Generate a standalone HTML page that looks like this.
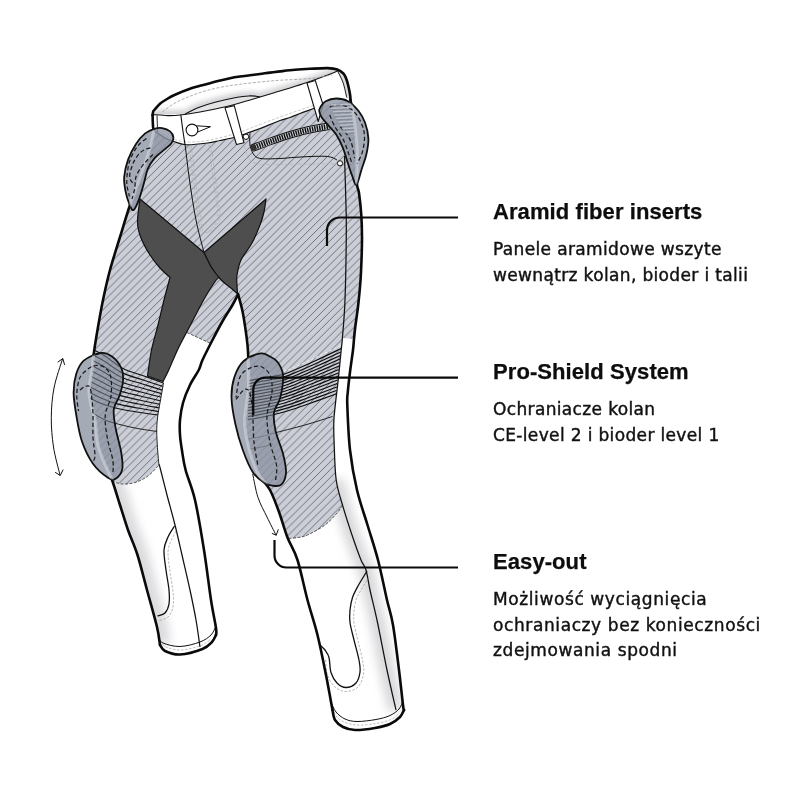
<!DOCTYPE html>
<html lang="pl"><head><meta charset="utf-8"><title>Pants features</title>
<style>
html,body{margin:0;padding:0;background:#fff;}
body{width:800px;height:800px;overflow:hidden;position:relative;font-family:"Liberation Sans",sans-serif;color:#111;}
svg{position:absolute;left:0;top:0;display:block}
.h{will-change:transform;position:absolute;left:493px;font-weight:bold;font-size:22px;line-height:26px;letter-spacing:0.08px;white-space:nowrap;color:#0d0d0d;-webkit-text-stroke:0.25px #0d0d0d}
.p{will-change:transform;position:absolute;left:493px;font-family:"DejaVu Sans","Liberation Sans",sans-serif;font-size:17px;line-height:25.5px;letter-spacing:0.35px;white-space:nowrap;color:#111;-webkit-text-stroke:0.42px #111}
</style></head><body>
<svg width="800" height="800" viewBox="0 0 800 800">
<defs>
<pattern id="hatch" width="7.9" height="7.9" patternUnits="userSpaceOnUse" patternTransform="translate(2,0)">
<rect width="7.9" height="7.9" fill="#cbced6"/>
<path d="M-1,1 L1,-1 M-1,8.9 L8.9,-1 M6.9,8.9 L8.9,6.9" stroke="#5e6169" stroke-width="0.85"/>
</pattern>
<mask id="nopads" maskUnits="userSpaceOnUse" x="0" y="0" width="800" height="800"><rect width="800" height="800" fill="#fff"/><path d="M154.40,128.80C157.23,127.92 159.58,127.67 162.20,128.10C164.82,128.53 168.23,129.87 170.10,131.40C171.97,132.93 173.18,135.33 173.40,137.30C173.62,139.27 172.82,141.23 171.40,143.20C169.98,145.17 167.73,146.58 164.90,149.10C162.07,151.62 157.25,155.02 154.40,158.30C151.55,161.58 149.55,164.65 147.80,168.80C146.05,172.95 145.43,177.95 143.90,183.20C142.37,188.45 140.35,195.82 138.60,200.30C136.85,204.78 134.93,209.45 133.40,210.10C131.87,210.75 130.72,207.37 129.40,204.20C128.08,201.03 126.37,195.68 125.50,191.10C124.63,186.52 123.77,181.95 124.20,176.70C124.63,171.45 126.13,165.07 128.10,159.60C130.07,154.13 133.15,148.27 136.00,143.90C138.85,139.53 142.13,135.92 145.20,133.40C148.27,130.88 151.57,129.68 154.40,128.80Z" fill="#000"/><path d="M320.50,107.00C321.58,105.37 323.08,102.62 325.70,101.20C328.32,99.78 332.48,98.50 336.20,98.50C339.92,98.50 344.27,99.12 348.00,101.20C351.73,103.28 355.75,107.40 358.60,111.00C361.45,114.60 363.47,118.20 365.10,122.80C366.73,127.40 368.18,133.35 368.40,138.60C368.62,143.85 367.50,149.28 366.40,154.30C365.30,159.32 363.45,163.62 361.80,168.70C360.15,173.78 358.13,183.70 356.50,184.80C354.87,185.90 353.42,178.85 352.00,175.30C350.58,171.75 349.53,168.10 348.00,163.50C346.47,158.90 344.77,152.52 342.80,147.70C340.83,142.88 338.60,138.32 336.20,134.60C333.80,130.88 330.80,128.23 328.40,125.40C326.00,122.57 323.33,120.00 321.80,117.60C320.27,115.20 319.42,112.77 319.20,111.00C318.98,109.23 319.42,108.63 320.50,107.00Z" fill="#000"/><path d="M100.60,353.00C105.31,352.32 108.56,354.00 112.00,356.50C115.44,359.00 119.42,363.92 121.25,368.00C123.08,372.08 123.31,376.33 123.00,381.00C122.69,385.67 120.94,391.27 119.40,396.00C117.86,400.73 114.38,404.07 113.75,409.40C113.12,414.73 114.35,420.82 115.60,428.00C116.85,435.18 120.15,445.60 121.25,452.50C122.35,459.40 123.14,465.02 122.20,469.40C121.26,473.77 117.97,477.35 115.60,478.75C113.23,480.15 111.77,480.30 108.00,477.80C104.23,475.30 97.35,469.84 93.00,463.75C88.65,457.66 84.69,449.38 81.90,441.25C79.11,433.12 77.63,423.12 76.25,415.00C74.87,406.88 73.60,399.38 73.60,392.50C73.60,385.62 74.56,379.07 76.25,373.75C77.94,368.43 79.69,364.06 83.75,360.60C87.81,357.14 95.89,353.68 100.60,353.00Z" fill="#000"/><path d="M260.60,353.40C264.98,352.65 267.18,355.07 270.00,356.50C272.82,357.93 275.33,358.92 277.50,362.00C279.67,365.08 282.53,369.08 283.00,375.00C283.47,380.92 281.80,391.25 280.30,397.50C278.80,403.75 274.78,406.92 274.00,412.50C273.22,418.08 274.10,424.12 275.60,431.00C277.10,437.88 281.27,446.83 283.00,453.75C284.73,460.67 286.29,467.34 286.00,472.50C285.71,477.66 283.58,482.52 281.25,484.70C278.92,486.88 274.81,485.92 272.00,485.60C269.19,485.28 267.57,484.98 264.40,482.80C261.23,480.62 256.60,477.97 253.00,472.50C249.40,467.03 245.75,458.12 242.80,450.00C239.85,441.88 237.18,432.50 235.30,423.75C233.42,415.00 231.65,405.29 231.50,397.50C231.35,389.71 232.36,383.08 234.40,377.00C236.44,370.92 239.38,364.93 243.75,361.00C248.12,357.07 256.23,354.15 260.60,353.40Z" fill="#000"/></mask>
<clipPath id="inpads"><path d="M154.40,128.80C157.23,127.92 159.58,127.67 162.20,128.10C164.82,128.53 168.23,129.87 170.10,131.40C171.97,132.93 173.18,135.33 173.40,137.30C173.62,139.27 172.82,141.23 171.40,143.20C169.98,145.17 167.73,146.58 164.90,149.10C162.07,151.62 157.25,155.02 154.40,158.30C151.55,161.58 149.55,164.65 147.80,168.80C146.05,172.95 145.43,177.95 143.90,183.20C142.37,188.45 140.35,195.82 138.60,200.30C136.85,204.78 134.93,209.45 133.40,210.10C131.87,210.75 130.72,207.37 129.40,204.20C128.08,201.03 126.37,195.68 125.50,191.10C124.63,186.52 123.77,181.95 124.20,176.70C124.63,171.45 126.13,165.07 128.10,159.60C130.07,154.13 133.15,148.27 136.00,143.90C138.85,139.53 142.13,135.92 145.20,133.40C148.27,130.88 151.57,129.68 154.40,128.80Z"/><path d="M320.50,107.00C321.58,105.37 323.08,102.62 325.70,101.20C328.32,99.78 332.48,98.50 336.20,98.50C339.92,98.50 344.27,99.12 348.00,101.20C351.73,103.28 355.75,107.40 358.60,111.00C361.45,114.60 363.47,118.20 365.10,122.80C366.73,127.40 368.18,133.35 368.40,138.60C368.62,143.85 367.50,149.28 366.40,154.30C365.30,159.32 363.45,163.62 361.80,168.70C360.15,173.78 358.13,183.70 356.50,184.80C354.87,185.90 353.42,178.85 352.00,175.30C350.58,171.75 349.53,168.10 348.00,163.50C346.47,158.90 344.77,152.52 342.80,147.70C340.83,142.88 338.60,138.32 336.20,134.60C333.80,130.88 330.80,128.23 328.40,125.40C326.00,122.57 323.33,120.00 321.80,117.60C320.27,115.20 319.42,112.77 319.20,111.00C318.98,109.23 319.42,108.63 320.50,107.00Z"/><path d="M100.60,353.00C105.31,352.32 108.56,354.00 112.00,356.50C115.44,359.00 119.42,363.92 121.25,368.00C123.08,372.08 123.31,376.33 123.00,381.00C122.69,385.67 120.94,391.27 119.40,396.00C117.86,400.73 114.38,404.07 113.75,409.40C113.12,414.73 114.35,420.82 115.60,428.00C116.85,435.18 120.15,445.60 121.25,452.50C122.35,459.40 123.14,465.02 122.20,469.40C121.26,473.77 117.97,477.35 115.60,478.75C113.23,480.15 111.77,480.30 108.00,477.80C104.23,475.30 97.35,469.84 93.00,463.75C88.65,457.66 84.69,449.38 81.90,441.25C79.11,433.12 77.63,423.12 76.25,415.00C74.87,406.88 73.60,399.38 73.60,392.50C73.60,385.62 74.56,379.07 76.25,373.75C77.94,368.43 79.69,364.06 83.75,360.60C87.81,357.14 95.89,353.68 100.60,353.00Z"/><path d="M260.60,353.40C264.98,352.65 267.18,355.07 270.00,356.50C272.82,357.93 275.33,358.92 277.50,362.00C279.67,365.08 282.53,369.08 283.00,375.00C283.47,380.92 281.80,391.25 280.30,397.50C278.80,403.75 274.78,406.92 274.00,412.50C273.22,418.08 274.10,424.12 275.60,431.00C277.10,437.88 281.27,446.83 283.00,453.75C284.73,460.67 286.29,467.34 286.00,472.50C285.71,477.66 283.58,482.52 281.25,484.70C278.92,486.88 274.81,485.92 272.00,485.60C269.19,485.28 267.57,484.98 264.40,482.80C261.23,480.62 256.60,477.97 253.00,472.50C249.40,467.03 245.75,458.12 242.80,450.00C239.85,441.88 237.18,432.50 235.30,423.75C233.42,415.00 231.65,405.29 231.50,397.50C231.35,389.71 232.36,383.08 234.40,377.00C236.44,370.92 239.38,364.93 243.75,361.00C248.12,357.07 256.23,354.15 260.60,353.40Z"/></clipPath>
<filter id="blur6" x="-50%" y="-20%" width="200%" height="140%"><feGaussianBlur stdDeviation="5"/></filter>
<filter id="blur3" x="-20%" y="-50%" width="140%" height="200%"><feGaussianBlur stdDeviation="2.5"/></filter>
</defs>
<rect width="800" height="800" fill="#fff"/>
<path d="M154.00,130.50C155.83,131.75 161.58,136.12 165.00,138.00C168.42,139.88 170.92,140.62 174.50,141.75C178.08,142.88 181.00,144.54 186.50,144.75C192.00,144.96 201.92,143.71 207.50,143.00C213.08,142.29 215.00,141.58 220.00,140.50C225.00,139.42 232.50,137.92 237.50,136.50C242.50,135.08 246.25,133.33 250.00,132.00C253.75,130.67 255.00,130.42 260.00,128.50C265.00,126.58 275.00,122.33 280.00,120.50C285.00,118.67 286.67,118.67 290.00,117.50C293.33,116.33 296.17,114.95 300.00,113.50C303.83,112.05 309.67,110.05 313.00,108.80C316.33,107.55 313.67,107.47 320.00,106.00C326.33,104.53 345.83,101.00 351.00,100.00C351.17,103.83 353.42,114.83 354.50,123.00C355.58,131.17 356.62,139.17 357.00,149.00C357.38,158.83 356.47,174.67 356.80,182.00C357.13,189.33 358.25,187.50 359.00,193.00C359.75,198.50 360.80,207.67 361.30,215.00C361.80,222.33 361.97,229.50 362.00,237.00C362.03,244.50 361.77,252.50 361.50,260.00C361.23,267.50 360.95,274.50 360.40,282.00C359.85,289.50 359.07,297.42 358.20,305.00C357.33,312.58 355.90,321.83 355.20,327.50C354.50,333.17 354.37,335.25 354.00,339.00C353.63,342.75 353.67,344.50 353.00,350.00C352.33,355.50 350.87,365.00 350.00,372.00C349.13,379.00 348.25,386.50 347.80,392.00C347.35,397.50 346.93,395.33 347.30,405.00C347.67,414.67 348.38,435.83 350.00,450.00C351.62,464.17 354.08,477.50 357.00,490.00C359.92,502.50 364.00,513.33 367.50,525.00C371.00,536.67 374.75,547.50 378.00,560.00C381.25,572.50 384.50,589.17 387.00,600.00C389.50,610.83 391.00,613.33 393.00,625.00C395.00,636.67 397.33,656.67 399.00,670.00C400.67,683.33 402.17,698.33 403.00,705.00C403.83,711.67 403.83,709.17 404.00,710.00C403.33,711.17 402.33,714.67 400.00,717.00C397.67,719.33 394.17,722.17 390.00,724.00C385.83,725.83 380.83,727.00 375.00,728.00C369.17,729.00 360.33,730.17 355.00,730.00C349.67,729.83 346.33,728.67 343.00,727.00C339.67,725.33 336.75,722.83 335.00,720.00C333.25,717.17 332.92,711.67 332.50,710.00C331.42,704.17 328.50,687.50 326.00,675.00C323.50,662.50 320.58,647.50 317.50,635.00C314.42,622.50 310.83,612.50 307.50,600.00C304.17,587.50 300.83,570.42 297.50,560.00C294.17,549.58 290.58,545.50 287.50,537.50C284.42,529.50 281.92,519.92 279.00,512.00C276.08,504.08 273.22,496.00 270.00,490.00C266.78,484.00 262.37,480.33 259.70,476.00C257.03,471.67 255.72,468.33 254.00,464.00C252.28,459.67 250.73,454.83 249.40,450.00C248.07,445.17 246.78,440.00 246.00,435.00C245.22,430.00 244.70,424.50 244.70,420.00C244.70,415.50 245.38,413.00 246.00,408.00C246.62,403.00 247.97,395.50 248.40,390.00C248.83,384.50 248.62,380.33 248.60,375.00C248.58,369.67 248.48,363.00 248.30,358.00C248.12,353.00 247.95,349.67 247.50,345.00C247.05,340.33 246.43,335.62 245.60,330.00C244.77,324.38 243.75,317.18 242.50,311.25C241.25,305.32 238.83,297.21 238.10,294.40C237.17,296.17 235.10,300.52 232.50,305.00C229.90,309.48 225.83,315.42 222.50,321.25C219.17,327.08 215.83,333.54 212.50,340.00C209.17,346.46 204.79,355.00 202.50,360.00C200.21,365.00 200.83,365.83 198.75,370.00C196.67,374.17 192.61,379.58 190.00,385.00C187.39,390.42 184.77,396.67 183.10,402.50C181.43,408.33 180.52,414.58 180.00,420.00C179.48,425.42 179.68,430.00 180.00,435.00C180.32,440.00 180.97,444.17 181.90,450.00C182.83,455.83 183.42,461.67 185.60,470.00C187.78,478.33 191.93,486.67 195.00,500.00C198.07,513.33 201.33,533.33 204.00,550.00C206.67,566.67 209.00,587.00 211.00,600.00C213.00,613.00 215.17,622.17 216.00,628.00C216.83,633.83 216.00,633.83 216.00,635.00C215.33,636.17 214.25,639.67 212.00,642.00C209.75,644.33 207.83,646.92 202.50,649.00C197.17,651.08 186.25,654.17 180.00,654.50C173.75,654.83 168.33,652.58 165.00,651.00C161.67,649.42 160.83,646.00 160.00,645.00C159.50,642.00 159.17,636.17 157.00,627.00C154.83,617.83 150.25,602.00 147.00,590.00C143.75,578.00 140.67,565.00 137.50,555.00C134.33,545.00 130.92,538.33 128.00,530.00C125.08,521.67 122.67,513.33 120.00,505.00C117.33,496.67 114.67,487.17 112.00,480.00C109.33,472.83 106.33,467.83 104.00,462.00C101.67,456.17 99.50,452.00 98.00,445.00C96.50,438.00 96.17,426.67 95.00,420.00C93.83,413.33 92.00,410.00 91.00,405.00C90.00,400.00 88.83,395.83 89.00,390.00C89.17,384.17 91.17,376.33 92.00,370.00C92.83,363.67 93.08,358.67 94.00,352.00C94.92,345.33 96.00,338.67 97.50,330.00C99.00,321.33 100.92,310.00 103.00,300.00C105.08,290.00 107.17,280.50 110.00,270.00C112.83,259.50 116.67,247.83 120.00,237.00C123.33,226.17 126.67,214.83 130.00,205.00C133.33,195.17 136.75,187.17 140.00,178.00C143.25,168.83 147.17,157.92 149.50,150.00C151.83,142.08 153.25,133.75 154.00,130.50Z" fill="url(#hatch)"/>
<path d="M186.90,332.50L210.50,343.50C201.88,361.67 200.83,365.83 198.75,370.00C196.67,374.17 192.61,379.58 190.00,385.00C187.39,390.42 184.77,396.67 183.10,402.50C181.43,408.33 180.52,414.58 180.00,420.00C179.48,425.42 179.68,430.00 180.00,435.00C180.32,440.00 180.97,444.17 181.90,450.00C182.83,455.83 183.42,461.67 185.60,470.00C187.78,478.33 191.93,486.67 195.00,500.00C198.07,513.33 201.33,533.33 204.00,550.00C206.67,566.67 209.00,587.00 211.00,600.00C213.00,613.00 215.17,622.17 216.00,628.00C216.83,633.83 216.00,633.83 216.00,635.00C215.33,636.17 214.25,639.67 212.00,642.00C209.75,644.33 207.83,646.92 202.50,649.00C197.17,651.08 186.25,654.17 180.00,654.50C173.75,654.83 168.33,652.58 165.00,651.00C161.67,649.42 160.83,646.00 160.00,645.00C159.50,642.00 159.17,636.17 157.00,627.00C154.83,617.83 150.25,602.00 147.00,590.00C143.75,578.00 140.67,565.00 137.50,555.00C134.33,545.00 130.92,538.33 128.00,530.00C125.08,521.67 122.67,513.33 120.00,505.00C117.33,496.67 113.33,484.17 112.00,480.00C113.67,481.50 118.17,483.75 122.00,484.00C125.83,484.25 130.67,483.83 135.00,482.50C139.33,481.17 144.00,478.92 148.00,476.00C152.00,473.08 157.17,466.83 159.00,465.00C158.83,463.33 158.38,460.33 158.00,455.00C157.62,449.67 156.83,439.17 156.75,433.00C156.67,426.83 156.88,423.50 157.50,418.00C158.12,412.50 159.50,405.83 160.50,400.00C161.50,394.17 163.00,385.83 163.50,383.00C163.96,379.58 166.33,375.25 168.75,370.00C171.17,364.75 174.54,356.25 177.50,350.00C180.46,343.75 185.00,335.42 186.50,332.50Z" fill="#fff"/>
<clipPath id="lowLclip"><path d="M160.00,645.00C159.50,642.00 159.17,636.17 157.00,627.00C154.83,617.83 150.25,602.00 147.00,590.00C143.75,578.00 140.67,565.00 137.50,555.00C134.33,545.00 130.92,538.33 128.00,530.00C125.08,521.67 122.67,513.33 120.00,505.00C117.33,496.67 113.33,484.17 112.00,480.00C113.67,481.50 118.17,483.75 122.00,484.00C125.83,484.25 130.67,483.83 135.00,482.50C139.33,481.17 144.00,478.92 148.00,476.00C152.00,473.08 157.17,466.83 159.00,465.00C159.17,465.42 158.67,462.50 160.00,467.50C161.33,472.50 164.50,485.42 167.00,495.00C169.50,504.58 172.50,515.00 175.00,525.00C177.50,535.00 179.50,544.17 182.00,555.00C184.50,565.83 187.67,579.17 190.00,590.00C192.33,600.83 194.33,610.50 196.00,620.00C197.67,629.50 199.33,642.50 200.00,647.00C196.67,648.25 186.67,654.83 180.00,654.50C173.33,654.17 163.33,646.58 160.00,645.00Z"/></clipPath>
<g clip-path="url(#lowLclip)"><path d="M112.00,480.00C113.33,484.17 117.33,496.67 120.00,505.00C122.67,513.33 125.08,521.67 128.00,530.00C130.92,538.33 134.33,545.00 137.50,555.00C140.67,565.00 143.75,578.00 147.00,590.00C150.25,602.00 154.83,617.83 157.00,627.00C159.17,636.17 159.50,642.00 160.00,645.00" stroke="#dcdcdf" stroke-width="22" fill="none" filter="url(#blur6)"/></g>
<path d="M288.50,538.50C290.08,538.33 294.83,538.08 298.00,537.50C301.17,536.92 303.00,537.08 307.50,535.00C312.00,532.92 320.00,528.75 325.00,525.00C330.00,521.25 334.58,515.83 337.50,512.50C340.42,509.17 341.67,506.25 342.50,505.00C341.45,500.83 337.58,490.00 336.20,480.00C334.82,470.00 334.60,454.67 334.20,445.00C333.80,435.33 333.62,428.67 333.80,422.00C333.98,415.33 334.57,412.00 335.30,405.00C336.03,398.00 337.22,389.17 338.20,380.00C339.18,370.83 340.50,357.00 341.20,350.00C341.90,343.00 342.20,340.00 342.40,338.00L354.00,339.00C352.50,353.67 350.87,365.00 350.00,372.00C349.13,379.00 348.25,386.50 347.80,392.00C347.35,397.50 346.93,395.33 347.30,405.00C347.67,414.67 348.38,435.83 350.00,450.00C351.62,464.17 354.08,477.50 357.00,490.00C359.92,502.50 364.00,513.33 367.50,525.00C371.00,536.67 374.75,547.50 378.00,560.00C381.25,572.50 384.50,589.17 387.00,600.00C389.50,610.83 391.00,613.33 393.00,625.00C395.00,636.67 397.33,656.67 399.00,670.00C400.67,683.33 402.17,698.33 403.00,705.00C403.83,711.67 403.83,709.17 404.00,710.00C403.33,711.17 402.33,714.67 400.00,717.00C397.67,719.33 394.17,722.17 390.00,724.00C385.83,725.83 380.83,727.00 375.00,728.00C369.17,729.00 360.33,730.17 355.00,730.00C349.67,729.83 346.33,728.67 343.00,727.00C339.67,725.33 336.75,722.83 335.00,720.00C333.25,717.17 332.92,711.67 332.50,710.00C331.42,704.17 328.50,687.50 326.00,675.00C323.50,662.50 320.58,647.50 317.50,635.00C314.42,622.50 310.83,612.50 307.50,600.00C304.17,587.50 300.83,570.42 297.50,560.00C294.17,549.58 289.17,541.25 287.50,537.50Z" fill="#fff"/>
<clipPath id="whiteRclip"><path d="M288.50,538.50C290.08,538.33 294.83,538.08 298.00,537.50C301.17,536.92 303.00,537.08 307.50,535.00C312.00,532.92 320.00,528.75 325.00,525.00C330.00,521.25 334.58,515.83 337.50,512.50C340.42,509.17 341.67,506.25 342.50,505.00C341.45,500.83 337.58,490.00 336.20,480.00C334.82,470.00 334.60,454.67 334.20,445.00C333.80,435.33 333.62,428.67 333.80,422.00C333.98,415.33 334.57,412.00 335.30,405.00C336.03,398.00 337.22,389.17 338.20,380.00C339.18,370.83 340.50,357.00 341.20,350.00C341.90,343.00 342.20,340.00 342.40,338.00L354.00,339.00C352.50,353.67 350.87,365.00 350.00,372.00C349.13,379.00 348.25,386.50 347.80,392.00C347.35,397.50 346.93,395.33 347.30,405.00C347.67,414.67 348.38,435.83 350.00,450.00C351.62,464.17 354.08,477.50 357.00,490.00C359.92,502.50 364.00,513.33 367.50,525.00C371.00,536.67 374.75,547.50 378.00,560.00C381.25,572.50 384.50,589.17 387.00,600.00C389.50,610.83 391.00,613.33 393.00,625.00C395.00,636.67 397.33,656.67 399.00,670.00C400.67,683.33 402.17,698.33 403.00,705.00C403.83,711.67 403.83,709.17 404.00,710.00C403.33,711.17 402.33,714.67 400.00,717.00C397.67,719.33 394.17,722.17 390.00,724.00C385.83,725.83 380.83,727.00 375.00,728.00C369.17,729.00 360.33,730.17 355.00,730.00C349.67,729.83 346.33,728.67 343.00,727.00C339.67,725.33 336.75,722.83 335.00,720.00C333.25,717.17 332.92,711.67 332.50,710.00C331.42,704.17 328.50,687.50 326.00,675.00C323.50,662.50 320.58,647.50 317.50,635.00C314.42,622.50 310.83,612.50 307.50,600.00C304.17,587.50 300.83,570.42 297.50,560.00C294.17,549.58 289.17,541.25 287.50,537.50Z"/></clipPath>
<g clip-path="url(#whiteRclip)"><path d="M336.20,480.00C337.25,484.17 339.87,495.83 342.50,505.00C345.13,514.17 348.92,525.83 352.00,535.00C355.08,544.17 358.67,554.17 361.00,560.00C363.33,565.83 364.50,565.00 366.00,570.00C367.50,575.00 368.08,581.25 370.00,590.00C371.92,598.75 374.67,609.17 377.50,622.50C380.33,635.83 383.92,655.42 387.00,670.00C390.08,684.58 394.50,703.33 396.00,710.00" stroke="#d9d9dc" stroke-width="16" fill="none" filter="url(#blur6)"/></g>
<path d="M140.00,199.00C139.58,202.92 137.33,216.00 137.50,222.50C137.67,229.00 138.92,232.58 141.00,238.00C143.08,243.42 146.83,250.00 150.00,255.00C153.17,260.00 156.67,264.25 160.00,268.00C163.33,271.75 168.33,275.92 170.00,277.50C169.00,281.25 166.00,292.08 164.00,300.00C162.00,307.92 160.08,316.67 158.00,325.00C155.92,333.33 153.25,341.50 151.50,350.00C149.75,358.50 148.17,371.67 147.50,376.00L163.00,381.50C163.96,379.58 166.33,375.25 168.75,370.00C171.17,364.75 174.54,356.25 177.50,350.00C180.46,343.75 183.58,338.12 186.50,332.50C189.42,326.88 191.92,322.08 195.00,316.25C198.08,310.42 201.46,303.54 205.00,297.50C208.54,291.46 213.75,283.33 216.25,280.00C218.75,276.67 219.38,277.92 220.00,277.50C218.67,275.92 214.67,272.17 212.00,268.00C209.33,263.83 205.33,255.08 204.00,252.50L140.00,199.00Z" fill="#4e4e4e" stroke="#111" stroke-width="1.2" stroke-linejoin="round"/>
<path d="M204.00,252.50L266.00,199.00C265.67,201.17 265.00,207.67 264.00,212.00C263.00,216.33 262.00,219.83 260.00,225.00C258.00,230.17 255.17,237.17 252.00,243.00C248.83,248.83 243.50,254.67 241.00,260.00C238.50,265.33 237.67,270.83 237.00,275.00C236.33,279.17 236.92,281.88 237.00,285.00C237.08,288.12 237.42,292.29 237.50,293.75C236.04,292.50 231.46,288.54 228.75,286.25C226.04,283.96 224.04,283.04 221.25,280.00C218.46,276.96 214.88,272.58 212.00,268.00C209.12,263.42 205.33,255.08 204.00,252.50Z" fill="#4e4e4e" stroke="#111" stroke-width="1.2" stroke-linejoin="round"/>
<path d="M186.9,332.5 L210,343.2" stroke="#333" stroke-width="0.8" stroke-dasharray="3 1.5" fill="none"/>
<path d="M94.00,350.00C95.83,351.00 100.17,352.92 105.00,356.00C109.83,359.08 116.50,365.17 123.00,368.50C129.50,371.83 137.25,373.58 144.00,376.00C150.75,378.42 160.25,381.83 163.50,383.00" stroke="#111" stroke-width="1.15" fill="none"/>
<path d="M93.56,355.33C95.37,356.31 99.68,358.30 104.44,361.22C109.21,364.15 115.70,369.76 122.17,372.89C128.63,376.02 136.44,377.72 143.22,380.00C150.01,382.28 159.61,385.46 162.89,386.56" stroke="#111" stroke-width="1.15" fill="none"/>
<path d="M93.11,360.67C94.91,361.63 99.19,363.68 103.89,366.44C108.59,369.21 114.91,374.35 121.33,377.28C127.76,380.20 135.62,381.86 142.44,384.00C149.27,386.14 158.97,389.09 162.28,390.11" stroke="#111" stroke-width="1.15" fill="none"/>
<path d="M92.67,366.00C94.44,366.94 98.69,369.06 103.33,371.67C107.97,374.28 114.11,378.94 120.50,381.67C126.89,384.39 134.81,386.00 141.67,388.00C148.53,390.00 158.33,392.72 161.67,393.67" stroke="#111" stroke-width="1.15" fill="none"/>
<path d="M92.22,371.33C93.98,372.26 98.20,374.44 102.78,376.89C107.35,379.34 113.31,383.54 119.67,386.06C126.02,388.57 133.99,390.14 140.89,392.00C147.79,393.86 157.69,396.35 161.06,397.22" stroke="#111" stroke-width="1.15" fill="none"/>
<path d="M91.78,376.67C93.52,377.57 97.71,379.81 102.22,382.11C106.73,384.41 112.52,388.13 118.83,390.44C125.15,392.76 133.18,394.28 140.11,396.00C147.05,397.72 157.06,399.98 160.44,400.78" stroke="#111" stroke-width="1.15" fill="none"/>
<path d="M91.33,382.00C93.06,382.89 97.22,385.19 101.67,387.33C106.11,389.47 111.72,392.72 118.00,394.83C124.28,396.94 132.36,398.42 139.33,400.00C146.31,401.58 156.42,403.61 159.83,404.33" stroke="#111" stroke-width="1.15" fill="none"/>
<path d="M90.89,387.33C92.59,388.20 96.73,390.57 101.11,392.56C105.49,394.54 110.93,397.31 117.17,399.22C123.41,401.13 131.55,402.56 138.56,404.00C145.56,405.44 155.78,407.24 159.22,407.89" stroke="#111" stroke-width="1.15" fill="none"/>
<path d="M90.44,392.67C92.13,393.52 96.24,395.95 100.56,397.78C104.87,399.60 110.13,401.91 116.33,403.61C122.54,405.31 130.73,406.69 137.78,408.00C144.82,409.31 155.14,410.87 158.61,411.44" stroke="#111" stroke-width="1.15" fill="none"/>
<path d="M90.00,398.00C91.67,398.83 95.75,401.33 100.00,403.00C104.25,404.67 109.33,406.50 115.50,408.00C121.67,409.50 129.92,410.83 137.00,412.00C144.08,413.17 154.50,414.50 158.00,415.00" stroke="#111" stroke-width="1.15" fill="none"/>
<path d="M93.00,413.00C94.67,414.00 99.50,417.33 103.00,419.00C106.50,420.67 108.67,421.50 114.00,423.00C119.33,424.50 127.83,426.58 135.00,428.00C142.17,429.42 153.33,430.92 157.00,431.50" stroke="#222" stroke-width="1" fill="none"/>
<path d="M163.50,383.00C163.00,385.83 161.50,394.17 160.50,400.00C159.50,405.83 158.12,412.50 157.50,418.00C156.88,423.50 156.67,426.83 156.75,433.00C156.83,439.17 157.62,449.67 158.00,455.00C158.38,460.33 158.83,463.33 159.00,465.00" stroke="#222" stroke-width="1" fill="none"/>
<path d="M249.00,377.60C251.46,377.17 258.08,376.02 263.75,375.00C269.42,373.98 278.04,372.75 283.00,371.50C287.96,370.25 287.67,370.00 293.50,367.50C299.33,365.00 310.00,360.25 318.00,356.50C326.00,352.75 337.58,346.92 341.50,345.00" stroke="#eee" stroke-width="1" stroke-dasharray="3 2" fill="none"/>
<path d="M248.93,380.59C251.29,380.18 257.55,379.11 263.12,378.11C268.70,377.10 277.37,375.83 282.38,374.57C287.38,373.32 287.41,373.00 293.18,370.57C298.95,368.14 309.01,363.68 317.00,360.00C324.99,356.32 337.09,350.42 341.11,348.50" stroke="#0c0c0c" stroke-width="1.2" fill="none"/>
<path d="M248.86,383.59C251.13,383.19 257.02,382.20 262.50,381.21C267.98,380.22 276.69,378.90 281.75,377.64C286.81,376.38 287.15,376.00 292.86,373.64C298.57,371.29 308.02,367.11 316.00,363.50C323.98,359.89 336.60,353.92 340.71,352.00" stroke="#0c0c0c" stroke-width="1.2" fill="none"/>
<path d="M248.79,386.58C250.97,386.20 256.49,385.30 261.88,384.32C267.26,383.34 276.01,381.98 281.12,380.71C286.24,379.45 286.89,379.00 292.54,376.71C298.18,374.43 307.04,370.54 315.00,367.00C322.96,363.46 336.10,357.42 340.32,355.50" stroke="#0c0c0c" stroke-width="1.2" fill="none"/>
<path d="M248.71,389.57C250.80,389.21 255.95,388.39 261.25,387.43C266.55,386.46 275.34,385.06 280.50,383.79C285.66,382.51 286.63,382.00 292.21,379.79C297.80,377.57 306.05,373.96 314.00,370.50C321.95,367.04 335.61,360.92 339.93,359.00" stroke="#0c0c0c" stroke-width="1.2" fill="none"/>
<path d="M248.64,392.56C250.64,392.23 255.42,391.49 260.62,390.54C265.83,389.58 274.66,388.14 279.88,386.86C285.09,385.58 286.37,385.00 291.89,382.86C297.41,380.71 305.06,377.39 313.00,374.00C320.94,370.61 335.11,364.42 339.54,362.50" stroke="#0c0c0c" stroke-width="1.2" fill="none"/>
<path d="M248.57,395.56C250.48,395.24 254.89,394.58 260.00,393.64C265.11,392.70 273.99,391.21 279.25,389.93C284.51,388.64 286.11,388.00 291.57,385.93C297.03,383.86 304.07,380.82 312.00,377.50C319.93,374.18 334.62,367.92 339.14,366.00" stroke="#0c0c0c" stroke-width="1.2" fill="none"/>
<path d="M248.50,398.55C250.31,398.25 254.35,397.68 259.38,396.75C264.40,395.82 273.31,394.29 278.62,393.00C283.94,391.71 285.85,391.00 291.25,389.00C296.65,387.00 303.08,384.25 311.00,381.00C318.92,377.75 334.12,371.42 338.75,369.50" stroke="#0c0c0c" stroke-width="1.2" fill="none"/>
<path d="M248.43,401.54C250.15,401.26 253.82,400.77 258.75,399.86C263.68,398.95 272.64,397.37 278.00,396.07C283.36,394.77 285.60,394.00 290.93,392.07C296.26,390.14 302.10,387.68 310.00,384.50C317.90,381.32 333.63,374.92 338.36,373.00" stroke="#0c0c0c" stroke-width="1.2" fill="none"/>
<path d="M248.36,404.54C249.99,404.27 253.29,403.86 258.12,402.96C262.96,402.07 271.96,400.45 277.38,399.14C282.79,397.84 285.34,397.00 290.61,395.14C295.88,393.29 301.11,391.11 309.00,388.00C316.89,384.89 333.14,378.42 337.96,376.50" stroke="#0c0c0c" stroke-width="1.2" fill="none"/>
<path d="M248.29,407.53C249.82,407.29 252.76,406.96 257.50,406.07C262.24,405.19 271.29,403.52 276.75,402.21C282.21,400.90 285.08,400.00 290.29,398.21C295.49,396.43 300.12,394.54 308.00,391.50C315.88,388.46 332.64,381.92 337.57,380.00" stroke="#0c0c0c" stroke-width="1.2" fill="none"/>
<path d="M248.21,410.52C249.66,410.30 252.22,410.05 256.88,409.18C261.53,408.31 270.61,406.60 276.12,405.29C281.64,403.97 284.82,403.00 289.96,401.29C295.11,399.57 299.13,397.96 307.00,395.00C314.87,392.04 332.15,385.42 337.18,383.50" stroke="#0c0c0c" stroke-width="1.2" fill="none"/>
<path d="M248.14,413.51C249.49,413.31 251.69,413.15 256.25,412.29C260.81,411.43 269.93,409.68 275.50,408.36C281.07,407.04 284.56,406.00 289.64,404.36C294.73,402.71 298.14,401.39 306.00,398.50C313.86,395.61 331.65,388.92 336.79,387.00" stroke="#0c0c0c" stroke-width="1.2" fill="none"/>
<path d="M248.07,416.51C249.33,416.32 251.16,416.24 255.62,415.39C260.09,414.55 269.26,412.76 274.88,411.43C280.49,410.10 284.30,409.00 289.32,407.43C294.34,405.86 297.15,404.82 305.00,402.00C312.85,399.18 331.16,392.42 336.39,390.50" stroke="#0c0c0c" stroke-width="1.2" fill="none"/>
<path d="M248.00,419.50C249.17,419.33 250.62,419.33 255.00,418.50C259.38,417.67 268.58,415.83 274.25,414.50C279.92,413.17 284.04,412.00 289.00,410.50C293.96,409.00 296.17,408.25 304.00,405.50C311.83,402.75 330.67,395.92 336.00,394.00" stroke="#0c0c0c" stroke-width="1.2" fill="none"/>
<path d="M248.00,439.00C250.33,438.58 257.92,437.42 262.00,436.50C266.08,435.58 265.33,435.42 272.50,433.50C279.67,431.58 295.00,427.83 305.00,425.00C315.00,422.17 327.92,417.92 332.50,416.50" stroke="#222" stroke-width="1" fill="none"/>
<path d="M250.00,449.00C252.00,448.67 258.17,447.83 262.00,447.00C265.83,446.17 271.17,444.50 273.00,444.00" stroke="#222" stroke-width="1" fill="none"/>
<path d="M344.50,156.00C344.68,162.00 345.30,179.67 345.60,192.00C345.90,204.33 346.40,212.00 346.30,230.00C346.20,248.00 345.65,282.00 345.00,300.00C344.35,318.00 343.03,329.67 342.40,338.00C341.77,346.33 341.90,343.00 341.20,350.00C340.50,357.00 339.18,370.83 338.20,380.00C337.22,389.17 336.03,398.00 335.30,405.00C334.57,412.00 333.98,415.33 333.80,422.00C333.62,428.67 333.80,435.33 334.20,445.00C334.60,454.67 334.82,470.00 336.20,480.00C337.58,490.00 339.87,495.83 342.50,505.00C345.13,514.17 348.92,525.83 352.00,535.00C355.08,544.17 358.67,554.17 361.00,560.00C363.33,565.83 364.50,565.00 366.00,570.00C367.50,575.00 368.08,581.25 370.00,590.00C371.92,598.75 374.67,609.17 377.50,622.50C380.33,635.83 383.92,655.42 387.00,670.00C390.08,684.58 394.50,703.33 396.00,710.00" stroke="#111" stroke-width="1.25" fill="none"/>
<path d="M159.00,465.00C159.17,465.42 158.67,462.50 160.00,467.50C161.33,472.50 164.50,485.42 167.00,495.00C169.50,504.58 172.50,515.00 175.00,525.00C177.50,535.00 179.50,544.17 182.00,555.00C184.50,565.83 187.67,579.17 190.00,590.00C192.33,600.83 194.33,610.50 196.00,620.00C197.67,629.50 199.33,642.50 200.00,647.00" stroke="#111" stroke-width="1.25" fill="none"/>
<path d="M112.00,481.00C113.67,481.50 118.17,483.75 122.00,484.00C125.83,484.25 130.67,483.83 135.00,482.50C139.33,481.17 144.00,478.92 148.00,476.00C152.00,473.08 157.17,466.83 159.00,465.00" stroke="#333" stroke-width="0.8" stroke-dasharray="3 1.5" fill="none"/>
<path d="M288.50,538.50C290.08,538.33 294.83,538.08 298.00,537.50C301.17,536.92 303.00,537.08 307.50,535.00C312.00,532.92 320.00,528.75 325.00,525.00C330.00,521.25 334.58,515.83 337.50,512.50C340.42,509.17 341.67,506.25 342.50,505.00" stroke="#333" stroke-width="0.8" stroke-dasharray="3 1.5" fill="none"/>
<path d="M180.80,114.75C181.50,119.62 183.55,133.12 185.00,144.00C186.45,154.88 187.67,167.33 189.50,180.00C191.33,192.67 193.58,207.92 196.00,220.00C198.42,232.08 202.67,247.08 204.00,252.50" stroke="#111" stroke-width="1" fill="none"/>
<path d="M189.00,146.00C189.50,150.00 190.83,161.00 192.00,170.00C193.17,179.00 194.58,189.67 196.00,200.00C197.42,210.33 199.75,226.67 200.50,232.00" stroke="#aeb0b6" stroke-width="0.8" stroke-dasharray="3 1.6" fill="none"/>
<path d="M209.00,145.00C209.50,149.17 210.83,160.83 212.00,170.00C213.17,179.17 215.08,192.00 216.00,200.00C216.92,208.00 218.17,213.17 217.50,218.00C216.83,222.83 214.42,226.42 212.00,229.00C209.58,231.58 204.50,232.75 203.00,233.50" stroke="#aeb0b6" stroke-width="0.8" stroke-dasharray="3 1.6" fill="none"/>
<path d="M191.20,146.00C191.70,150.00 193.03,161.00 194.20,170.00C195.37,179.00 196.78,189.67 198.20,200.00C199.62,210.33 201.95,226.67 202.70,232.00" stroke="#aeb0b6" stroke-width="0.8" stroke-dasharray="3 1.6" fill="none"/>
<path d="M211.20,145.00C211.70,149.17 213.03,160.83 214.20,170.00C215.37,179.17 217.28,192.00 218.20,200.00C219.12,208.00 220.37,213.17 219.70,218.00C219.03,222.83 216.62,226.42 214.20,229.00C211.78,231.58 206.70,232.75 205.20,233.50" stroke="#aeb0b6" stroke-width="0.8" stroke-dasharray="3 1.6" fill="none"/>
<path d="M174.50,526.00C173.42,527.83 169.75,533.00 168.00,537.00C166.25,541.00 164.33,544.50 164.00,550.00C163.67,555.50 165.17,563.33 166.00,570.00C166.83,576.67 168.50,584.33 169.00,590.00C169.50,595.67 169.67,600.17 169.00,604.00C168.33,607.83 166.92,611.00 165.00,613.00C163.08,615.00 158.75,615.50 157.50,616.00" stroke="#111" stroke-width="1.3" fill="none"/>
<path d="M176.00,531.00C175.17,532.67 172.33,537.50 171.00,541.00C169.67,544.50 168.17,546.83 168.00,552.00C167.83,557.17 169.17,565.33 170.00,572.00C170.83,578.67 172.50,586.17 173.00,592.00C173.50,597.83 173.83,602.83 173.00,607.00C172.17,611.17 170.50,614.67 168.00,617.00C165.50,619.33 159.67,620.33 158.00,621.00" stroke="#999" stroke-width="0.7" stroke-dasharray="2.5 1.5" fill="none"/>
<path d="M367.00,571.00C365.50,573.50 360.42,581.58 358.00,586.00C355.58,590.42 353.83,593.50 352.50,597.50C351.17,601.50 350.42,605.83 350.00,610.00C349.58,614.17 349.33,617.50 350.00,622.50C350.67,627.50 352.50,633.75 354.00,640.00C355.50,646.25 358.00,654.67 359.00,660.00C360.00,665.33 360.50,668.17 360.00,672.00C359.50,675.83 358.33,680.42 356.00,683.00C353.67,685.58 349.17,687.50 346.00,687.50C342.83,687.50 339.50,685.50 337.00,683.00C334.50,680.50 332.33,676.75 331.00,672.50C329.67,668.25 330.00,661.25 329.00,657.50C328.00,653.75 326.50,652.08 325.00,650.00C323.50,647.92 320.83,645.83 320.00,645.00" stroke="#111" stroke-width="1.3" fill="none"/>
<path d="M369.00,577.00C367.67,579.17 363.17,586.17 361.00,590.00C358.83,593.83 357.17,596.33 356.00,600.00C354.83,603.67 354.33,608.17 354.00,612.00C353.67,615.83 353.33,618.17 354.00,623.00C354.67,627.83 356.58,634.83 358.00,641.00C359.42,647.17 361.58,654.50 362.50,660.00C363.42,665.50 364.25,669.50 363.50,674.00C362.75,678.50 360.92,684.08 358.00,687.00C355.08,689.92 349.83,691.50 346.00,691.50C342.17,691.50 338.08,689.75 335.00,687.00C331.92,684.25 329.08,679.50 327.50,675.00C325.92,670.50 325.83,662.50 325.50,660.00" stroke="#999" stroke-width="0.7" stroke-dasharray="2.5 1.5" fill="none"/>
<path d="M158.00,637.00C158.83,638.00 159.33,641.42 163.00,643.00C166.67,644.58 173.83,646.67 180.00,646.50C186.17,646.33 194.83,643.92 200.00,642.00C205.17,640.08 208.42,637.50 211.00,635.00C213.58,632.50 214.75,628.33 215.50,627.00" stroke="#111" stroke-width="1" fill="none"/>
<path d="M160.00,641.00C161.00,642.00 162.50,645.50 166.00,647.00C169.50,648.50 175.17,650.25 181.00,650.00C186.83,649.75 196.00,647.33 201.00,645.50C206.00,643.67 209.33,640.08 211.00,639.00" stroke="#999" stroke-width="0.6" stroke-dasharray="2.5 1.5" fill="none"/>
<path d="M331.00,702.00C331.83,703.67 333.67,709.17 336.00,712.00C338.33,714.83 341.50,717.42 345.00,719.00C348.50,720.58 351.83,721.42 357.00,721.50C362.17,721.58 370.50,720.50 376.00,719.50C381.50,718.50 386.17,717.25 390.00,715.50C393.83,713.75 396.83,711.42 399.00,709.00C401.17,706.58 402.33,702.33 403.00,701.00" stroke="#111" stroke-width="1" fill="none"/>
<path d="M334.00,712.00C335.00,713.33 336.33,717.83 340.00,720.00C343.67,722.17 350.00,724.42 356.00,725.00C362.00,725.58 370.17,724.42 376.00,723.50C381.83,722.58 387.17,721.17 391.00,719.50C394.83,717.83 397.67,714.50 399.00,713.50" stroke="#999" stroke-width="0.6" stroke-dasharray="2.5 1.5" fill="none"/>
<path d="M250.00,132.00C249.95,133.33 249.62,137.50 249.70,140.00C249.78,142.50 249.70,144.42 250.50,147.00C251.30,149.58 252.58,153.55 254.50,155.50C256.42,157.45 257.75,158.20 262.00,158.70C266.25,159.20 274.50,158.73 280.00,158.50C285.50,158.27 290.00,157.63 295.00,157.30C300.00,156.97 305.00,156.67 310.00,156.50C315.00,156.33 321.33,156.13 325.00,156.30C328.67,156.47 330.00,156.88 332.00,157.50C334.00,158.12 336.17,159.58 337.00,160.00" stroke="#111" stroke-width="1" fill="none"/>
<path d="M244.75,146.50C245.04,147.75 245.62,151.75 246.50,154.00C247.38,156.25 248.42,158.42 250.00,160.00C251.58,161.58 253.50,162.75 256.00,163.50C258.50,164.25 257.67,164.38 265.00,164.50C272.33,164.62 288.00,164.32 300.00,164.20C312.00,164.07 330.83,163.82 337.00,163.75" stroke="#aeb0b6" stroke-width="0.8" stroke-dasharray="3 1.6" fill="none"/>
<path d="M252.50,148.00C255.42,146.92 264.17,143.57 270.00,141.50C275.83,139.43 281.50,137.43 287.50,135.60C293.50,133.77 299.08,132.05 306.00,130.50C312.92,128.95 325.17,127.00 329.00,126.30" stroke="#111" stroke-width="7.6" fill="none" stroke-linecap="butt"/>
<path d="M252.50,148.00C255.42,146.92 264.17,143.57 270.00,141.50C275.83,139.43 281.50,137.43 287.50,135.60C293.50,133.77 299.08,132.05 306.00,130.50C312.92,128.95 325.17,127.00 329.00,126.30" stroke="#d4d7de" stroke-width="5.6" fill="none" stroke-linecap="butt"/>
<path d="M252.50,148.00C255.42,146.92 264.17,143.57 270.00,141.50C275.83,139.43 281.50,137.43 287.50,135.60C293.50,133.77 299.08,132.05 306.00,130.50C312.92,128.95 325.17,127.00 329.00,126.30" stroke="#111" stroke-width="5.2" fill="none" stroke-dasharray="1.45 0.95"/>
<rect x="250.5" y="144.5" width="5" height="6" fill="#333" transform="rotate(-18 253 147.5)"/>
<circle cx="246" cy="136.75" r="2.7" fill="#fff" stroke="#111" stroke-width="1"/>
<circle cx="340" cy="163.3" r="2.6" fill="#fff" stroke="#111" stroke-width="1"/>
<path d="M185.00,114.25C186.17,113.62 189.50,111.71 192.00,110.50C194.50,109.29 196.17,108.38 200.00,107.00C203.83,105.62 208.75,103.88 215.00,102.25C221.25,100.62 231.67,98.26 237.50,97.20C243.33,96.14 246.92,96.07 250.00,95.90C253.08,95.73 254.33,96.02 256.00,96.20C257.67,96.38 259.33,96.87 260.00,97.00C257.17,97.83 248.75,100.38 243.00,102.00C237.25,103.62 232.67,105.08 225.50,106.75C218.33,108.42 207.50,110.62 200.00,112.00C192.50,113.38 183.75,114.50 180.50,115.00L185.00,114.25Z" fill="#e3e3e5"/>
<clipPath id="backclip"><path d="M152.60,115.00C152.70,114.42 152.84,112.42 153.20,111.50C153.56,110.58 153.62,110.79 154.75,109.50C155.88,108.21 157.96,105.50 160.00,103.75C162.04,102.00 164.50,100.50 167.00,99.00C169.50,97.50 171.17,96.46 175.00,94.75C178.83,93.04 185.00,90.46 190.00,88.75C195.00,87.04 200.33,85.79 205.00,84.50C209.67,83.21 213.83,82.05 218.00,81.00C222.17,79.95 226.33,78.95 230.00,78.20C233.67,77.45 236.67,76.99 240.00,76.50C243.33,76.01 246.67,75.67 250.00,75.25C253.33,74.83 256.67,74.44 260.00,74.00C263.33,73.56 266.67,73.03 270.00,72.60C273.33,72.17 275.83,71.87 280.00,71.40C284.17,70.93 290.00,70.23 295.00,69.80C300.00,69.37 304.58,69.08 310.00,68.80C315.42,68.52 322.96,68.00 327.50,68.10C332.04,68.20 334.54,68.45 337.25,69.40C339.96,70.35 342.12,71.87 343.75,73.80C345.38,75.73 346.09,78.30 347.00,81.00C347.91,83.70 348.66,87.50 349.20,90.00C349.74,92.50 350.03,94.33 350.25,96.00C350.47,97.67 350.46,99.33 350.50,100.00L337.00,71.25C335.00,72.04 330.00,74.12 325.00,76.00C320.00,77.88 312.83,80.50 307.00,82.50C301.17,84.50 295.33,86.33 290.00,88.00C284.67,89.67 280.00,91.00 275.00,92.50C270.00,94.00 262.50,96.25 260.00,97.00C259.33,96.87 257.67,96.38 256.00,96.20C254.33,96.02 253.08,95.73 250.00,95.90C246.92,96.07 243.33,96.14 237.50,97.20C231.67,98.26 221.25,100.62 215.00,102.25C208.75,103.88 203.83,105.62 200.00,107.00C196.17,108.38 194.50,109.29 192.00,110.50C189.50,111.71 186.17,113.62 185.00,114.25L153.00,114.60L152.60,115.00Z"/></clipPath>
<path d="M152.60,115.00C152.70,114.42 152.84,112.42 153.20,111.50C153.56,110.58 153.62,110.79 154.75,109.50C155.88,108.21 157.96,105.50 160.00,103.75C162.04,102.00 164.50,100.50 167.00,99.00C169.50,97.50 171.17,96.46 175.00,94.75C178.83,93.04 185.00,90.46 190.00,88.75C195.00,87.04 200.33,85.79 205.00,84.50C209.67,83.21 213.83,82.05 218.00,81.00C222.17,79.95 226.33,78.95 230.00,78.20C233.67,77.45 236.67,76.99 240.00,76.50C243.33,76.01 246.67,75.67 250.00,75.25C253.33,74.83 256.67,74.44 260.00,74.00C263.33,73.56 266.67,73.03 270.00,72.60C273.33,72.17 275.83,71.87 280.00,71.40C284.17,70.93 290.00,70.23 295.00,69.80C300.00,69.37 304.58,69.08 310.00,68.80C315.42,68.52 322.96,68.00 327.50,68.10C332.04,68.20 334.54,68.45 337.25,69.40C339.96,70.35 342.12,71.87 343.75,73.80C345.38,75.73 346.09,78.30 347.00,81.00C347.91,83.70 348.66,87.50 349.20,90.00C349.74,92.50 350.03,94.33 350.25,96.00C350.47,97.67 350.46,99.33 350.50,100.00L337.00,71.25C335.00,72.04 330.00,74.12 325.00,76.00C320.00,77.88 312.83,80.50 307.00,82.50C301.17,84.50 295.33,86.33 290.00,88.00C284.67,89.67 280.00,91.00 275.00,92.50C270.00,94.00 262.50,96.25 260.00,97.00C259.33,96.87 257.67,96.38 256.00,96.20C254.33,96.02 253.08,95.73 250.00,95.90C246.92,96.07 243.33,96.14 237.50,97.20C231.67,98.26 221.25,100.62 215.00,102.25C208.75,103.88 203.83,105.62 200.00,107.00C196.17,108.38 194.50,109.29 192.00,110.50C189.50,111.71 186.17,113.62 185.00,114.25L153.00,114.60L152.60,115.00Z" fill="#fff"/>
<g clip-path="url(#backclip)"><path d="M153.00,114.60C158.33,114.54 178.50,114.93 185.00,114.25C191.50,113.57 189.50,111.71 192.00,110.50C194.50,109.29 196.17,108.38 200.00,107.00C203.83,105.62 208.75,103.88 215.00,102.25C221.25,100.62 231.67,98.26 237.50,97.20C243.33,96.14 246.92,96.07 250.00,95.90C253.08,95.73 254.33,96.02 256.00,96.20C257.67,96.38 256.83,97.62 260.00,97.00C263.17,96.38 270.00,94.00 275.00,92.50C280.00,91.00 284.67,89.67 290.00,88.00C295.33,86.33 301.17,84.50 307.00,82.50C312.83,80.50 320.00,77.88 325.00,76.00C330.00,74.12 335.00,72.04 337.00,71.25" stroke="#d2d2d6" stroke-width="9" fill="none" filter="url(#blur3)"/></g>
<path d="M153.00,114.60C155.50,114.77 163.42,115.53 168.00,115.60C172.58,115.67 175.17,115.60 180.50,115.00C185.83,114.40 192.50,113.38 200.00,112.00C207.50,110.62 218.33,108.42 225.50,106.75C232.67,105.08 237.25,103.62 243.00,102.00C248.75,100.38 254.67,98.58 260.00,97.00C265.33,95.42 270.00,94.00 275.00,92.50C280.00,91.00 284.67,89.67 290.00,88.00C295.33,86.33 301.17,84.50 307.00,82.50C312.83,80.50 320.00,77.88 325.00,76.00C330.00,74.12 335.00,72.04 337.00,71.25C338.25,71.88 342.50,71.88 344.50,75.00C346.50,78.12 347.92,85.83 349.00,90.00C350.08,94.17 350.67,98.33 351.00,100.00C345.83,101.00 326.33,104.53 320.00,106.00C313.67,107.47 316.33,107.55 313.00,108.80C309.67,110.05 303.83,112.05 300.00,113.50C296.17,114.95 293.33,116.33 290.00,117.50C286.67,118.67 285.00,118.67 280.00,120.50C275.00,122.33 265.00,126.58 260.00,128.50C255.00,130.42 253.75,130.67 250.00,132.00C246.25,133.33 242.50,135.08 237.50,136.50C232.50,137.92 225.00,139.42 220.00,140.50C215.00,141.58 213.08,142.29 207.50,143.00C201.92,143.71 192.00,144.96 186.50,144.75C181.00,144.54 178.08,142.88 174.50,141.75C170.92,140.62 168.42,139.88 165.00,138.00C161.58,136.12 155.83,131.75 154.00,130.50L152.60,115.00Z" fill="#fff"/>
<path d="M153.00,114.60C155.50,114.77 163.42,115.53 168.00,115.60C172.58,115.67 175.17,115.60 180.50,115.00C185.83,114.40 192.50,113.38 200.00,112.00C207.50,110.62 218.33,108.42 225.50,106.75C232.67,105.08 237.25,103.62 243.00,102.00C248.75,100.38 254.67,98.58 260.00,97.00C265.33,95.42 270.00,94.00 275.00,92.50C280.00,91.00 284.67,89.67 290.00,88.00C295.33,86.33 301.17,84.50 307.00,82.50C312.83,80.50 320.00,77.88 325.00,76.00C330.00,74.12 335.00,72.04 337.00,71.25" stroke="#111" stroke-width="1.1" fill="none"/>
<path d="M185.00,114.25C186.17,113.62 189.50,111.71 192.00,110.50C194.50,109.29 196.17,108.38 200.00,107.00C203.83,105.62 208.75,103.88 215.00,102.25C221.25,100.62 231.67,98.26 237.50,97.20C243.33,96.14 246.92,96.07 250.00,95.90C253.08,95.73 254.33,96.02 256.00,96.20C257.67,96.38 259.33,96.87 260.00,97.00" stroke="#111" stroke-width="1.1" fill="none"/>
<path d="M154.00,130.50C155.83,131.75 161.58,136.12 165.00,138.00C168.42,139.88 170.92,140.62 174.50,141.75C178.08,142.88 181.00,144.54 186.50,144.75C192.00,144.96 201.92,143.71 207.50,143.00C213.08,142.29 215.00,141.58 220.00,140.50C225.00,139.42 232.50,137.92 237.50,136.50C242.50,135.08 246.25,133.33 250.00,132.00C253.75,130.67 255.00,130.42 260.00,128.50C265.00,126.58 275.00,122.33 280.00,120.50C285.00,118.67 286.67,118.67 290.00,117.50C293.33,116.33 296.17,114.95 300.00,113.50C303.83,112.05 309.67,110.05 313.00,108.80C316.33,107.55 318.83,106.47 320.00,106.00" stroke="#111" stroke-width="1.2" fill="none"/>
<path d="M337.00,69.75C338.25,70.62 342.50,71.62 344.50,75.00C346.50,78.38 348.00,85.83 349.00,90.00C350.00,94.17 350.25,98.33 350.50,100.00L346.75,98.00C346.12,95.42 344.62,87.21 343.00,82.50C341.38,77.79 338.00,71.88 337.00,69.75Z" fill="#dcdcde"/>
<path d="M337.00,70.00C338.00,72.08 341.38,77.92 343.00,82.50C344.62,87.08 346.12,95.00 346.75,97.50" stroke="#111" stroke-width="1" fill="none"/>
<path d="M162.25,112.00C164.38,110.50 170.38,105.62 175.00,103.00C179.62,100.38 185.00,98.25 190.00,96.25C195.00,94.25 199.67,92.54 205.00,91.00C210.33,89.46 216.17,88.12 222.00,87.00C227.83,85.88 233.67,85.08 240.00,84.25C246.33,83.42 253.33,82.67 260.00,82.00C266.67,81.33 271.67,80.83 280.00,80.25C288.33,79.67 301.33,79.38 310.00,78.50C318.67,77.62 328.33,75.58 332.00,75.00" stroke="#999" stroke-width="0.8" stroke-dasharray="3 1.6" fill="none"/>
<path d="M158.00,131.00C159.33,131.83 163.17,134.58 166.00,136.00C168.83,137.42 171.58,138.50 175.00,139.50C178.42,140.50 181.08,141.83 186.50,142.00C191.92,142.17 199.00,142.00 207.50,140.50C216.00,139.00 228.75,135.67 237.50,133.00C246.25,130.33 252.92,127.17 260.00,124.50C267.08,121.83 273.33,119.42 280.00,117.00C286.67,114.58 293.67,112.17 300.00,110.00C306.33,107.83 315.00,105.00 318.00,104.00" stroke="#bbb" stroke-width="0.8" stroke-dasharray="3 1.6" fill="none"/>
<path d="M157,115.3 L157.6,131.8" stroke="#111" stroke-width="0.9" fill="none"/>
<path d="M180.80,114.75C181.13,117.29 182.10,125.04 182.80,130.00C183.50,134.96 184.63,142.08 185.00,144.50" stroke="#111" stroke-width="1.1" fill="none"/>
<path d="M225,107.8 L234.3,105.6 L244,142.75 L236.5,144.5 Z" fill="#fff" stroke="#111" stroke-width="1.1" stroke-linejoin="round"/>
<path d="M307,83 L315.25,80.5 L323,104.5 L318.25,121.5 Z" fill="#fff" stroke="#111" stroke-width="1.1" stroke-linejoin="round"/>
<path d="M196.5,125.8 L210.5,126.7 L197.3,132.2 Z" fill="#fff" stroke="#111" stroke-width="1" stroke-linejoin="round"/>
<circle cx="192" cy="130" r="5.9" fill="#fff" stroke="#111" stroke-width="1.1"/>
<g mask="url(#nopads)"><path d="M152.60,115.00C152.70,114.42 152.84,112.42 153.20,111.50C153.56,110.58 153.62,110.79 154.75,109.50C155.88,108.21 157.96,105.50 160.00,103.75C162.04,102.00 164.50,100.50 167.00,99.00C169.50,97.50 171.17,96.46 175.00,94.75C178.83,93.04 185.00,90.46 190.00,88.75C195.00,87.04 200.33,85.79 205.00,84.50C209.67,83.21 213.83,82.05 218.00,81.00C222.17,79.95 226.33,78.95 230.00,78.20C233.67,77.45 236.67,76.99 240.00,76.50C243.33,76.01 246.67,75.67 250.00,75.25C253.33,74.83 256.67,74.44 260.00,74.00C263.33,73.56 266.67,73.03 270.00,72.60C273.33,72.17 275.83,71.87 280.00,71.40C284.17,70.93 290.00,70.23 295.00,69.80C300.00,69.37 304.58,69.08 310.00,68.80C315.42,68.52 322.96,68.00 327.50,68.10C332.04,68.20 334.54,68.45 337.25,69.40C339.96,70.35 342.12,71.87 343.75,73.80C345.38,75.73 346.09,78.30 347.00,81.00C347.91,83.70 348.66,87.50 349.20,90.00C349.74,92.50 350.03,94.33 350.25,96.00C350.47,97.67 350.46,99.33 350.50,100.00" stroke="#0a0a0a" stroke-width="2.6" fill="none" stroke-linecap="round" stroke-linejoin="round"/><path d="M152.60,115.00C152.63,116.17 152.67,119.67 152.80,122.00C152.93,124.33 152.87,127.50 153.40,129.00C153.93,130.50 155.57,130.67 156.00,131.00" stroke="#0a0a0a" stroke-width="2.6" fill="none" stroke-linecap="round" stroke-linejoin="round"/><path d="M154.00,130.50C153.25,133.75 151.83,142.08 149.50,150.00C147.17,157.92 143.25,168.83 140.00,178.00C136.75,187.17 133.33,195.17 130.00,205.00C126.67,214.83 123.33,226.17 120.00,237.00C116.67,247.83 112.83,259.50 110.00,270.00C107.17,280.50 105.08,290.00 103.00,300.00C100.92,310.00 99.00,321.33 97.50,330.00C96.00,338.67 94.92,345.33 94.00,352.00C93.08,358.67 92.83,363.67 92.00,370.00C91.17,376.33 89.17,384.17 89.00,390.00C88.83,395.83 90.00,400.00 91.00,405.00C92.00,410.00 93.83,413.33 95.00,420.00C96.17,426.67 96.50,438.00 98.00,445.00C99.50,452.00 101.67,456.17 104.00,462.00C106.33,467.83 109.33,472.83 112.00,480.00C114.67,487.17 117.33,496.67 120.00,505.00C122.67,513.33 125.08,521.67 128.00,530.00C130.92,538.33 134.33,545.00 137.50,555.00C140.67,565.00 143.75,578.00 147.00,590.00C150.25,602.00 154.83,617.83 157.00,627.00C159.17,636.17 159.50,642.00 160.00,645.00" stroke="#0a0a0a" stroke-width="2.6" fill="none" stroke-linecap="round" stroke-linejoin="round"/><path d="M160.00,645.00C160.83,646.00 161.67,649.42 165.00,651.00C168.33,652.58 173.75,654.83 180.00,654.50C186.25,654.17 197.17,651.08 202.50,649.00C207.83,646.92 209.75,644.33 212.00,642.00C214.25,639.67 215.33,636.17 216.00,635.00" stroke="#0a0a0a" stroke-width="2.6" fill="none" stroke-linecap="round" stroke-linejoin="round"/><path d="M238.10,294.40C237.17,296.17 235.10,300.52 232.50,305.00C229.90,309.48 225.83,315.42 222.50,321.25C219.17,327.08 215.83,333.54 212.50,340.00C209.17,346.46 204.79,355.00 202.50,360.00C200.21,365.00 200.83,365.83 198.75,370.00C196.67,374.17 192.61,379.58 190.00,385.00C187.39,390.42 184.77,396.67 183.10,402.50C181.43,408.33 180.52,414.58 180.00,420.00C179.48,425.42 179.68,430.00 180.00,435.00C180.32,440.00 180.97,444.17 181.90,450.00C182.83,455.83 183.42,461.67 185.60,470.00C187.78,478.33 191.93,486.67 195.00,500.00C198.07,513.33 201.33,533.33 204.00,550.00C206.67,566.67 209.00,587.00 211.00,600.00C213.00,613.00 215.17,622.17 216.00,628.00C216.83,633.83 216.00,633.83 216.00,635.00" stroke="#0a0a0a" stroke-width="2.6" fill="none" stroke-linecap="round" stroke-linejoin="round"/><path d="M238.10,294.40C238.83,297.21 241.25,305.32 242.50,311.25C243.75,317.18 244.77,324.38 245.60,330.00C246.43,335.62 247.05,340.33 247.50,345.00C247.95,349.67 248.12,353.00 248.30,358.00C248.48,363.00 248.58,369.67 248.60,375.00C248.62,380.33 248.83,384.50 248.40,390.00C247.97,395.50 246.62,403.00 246.00,408.00C245.38,413.00 244.70,415.50 244.70,420.00C244.70,424.50 245.22,430.00 246.00,435.00C246.78,440.00 248.07,445.17 249.40,450.00C250.73,454.83 252.28,459.67 254.00,464.00C255.72,468.33 257.03,471.67 259.70,476.00C262.37,480.33 266.78,484.00 270.00,490.00C273.22,496.00 276.08,504.08 279.00,512.00C281.92,519.92 284.42,529.50 287.50,537.50C290.58,545.50 294.17,549.58 297.50,560.00C300.83,570.42 304.17,587.50 307.50,600.00C310.83,612.50 314.42,622.50 317.50,635.00C320.58,647.50 323.50,662.50 326.00,675.00C328.50,687.50 331.42,704.17 332.50,710.00" stroke="#0a0a0a" stroke-width="2.6" fill="none" stroke-linecap="round" stroke-linejoin="round"/><path d="M332.50,710.00C332.92,711.67 333.25,717.17 335.00,720.00C336.75,722.83 339.67,725.33 343.00,727.00C346.33,728.67 349.67,729.83 355.00,730.00C360.33,730.17 369.17,729.00 375.00,728.00C380.83,727.00 385.83,725.83 390.00,724.00C394.17,722.17 397.67,719.33 400.00,717.00C402.33,714.67 403.33,711.17 404.00,710.00" stroke="#0a0a0a" stroke-width="2.6" fill="none" stroke-linecap="round" stroke-linejoin="round"/><path d="M350.50,100.00C351.17,103.83 353.42,114.83 354.50,123.00C355.58,131.17 356.62,139.17 357.00,149.00C357.38,158.83 356.47,174.67 356.80,182.00C357.13,189.33 358.25,187.50 359.00,193.00C359.75,198.50 360.80,207.67 361.30,215.00C361.80,222.33 361.97,229.50 362.00,237.00C362.03,244.50 361.77,252.50 361.50,260.00C361.23,267.50 360.95,274.50 360.40,282.00C359.85,289.50 359.07,297.42 358.20,305.00C357.33,312.58 355.90,321.83 355.20,327.50C354.50,333.17 354.37,335.25 354.00,339.00C353.63,342.75 353.67,344.50 353.00,350.00C352.33,355.50 350.87,365.00 350.00,372.00C349.13,379.00 348.25,386.50 347.80,392.00C347.35,397.50 346.93,395.33 347.30,405.00C347.67,414.67 348.38,435.83 350.00,450.00C351.62,464.17 354.08,477.50 357.00,490.00C359.92,502.50 364.00,513.33 367.50,525.00C371.00,536.67 374.75,547.50 378.00,560.00C381.25,572.50 384.50,589.17 387.00,600.00C389.50,610.83 391.00,613.33 393.00,625.00C395.00,636.67 397.33,656.67 399.00,670.00C400.67,683.33 402.17,698.33 403.00,705.00C403.83,711.67 403.83,709.17 404.00,710.00" stroke="#0a0a0a" stroke-width="2.6" fill="none" stroke-linecap="round" stroke-linejoin="round"/></g>
<path d="M154.40,128.80C157.23,127.92 159.58,127.67 162.20,128.10C164.82,128.53 168.23,129.87 170.10,131.40C171.97,132.93 173.18,135.33 173.40,137.30C173.62,139.27 172.82,141.23 171.40,143.20C169.98,145.17 167.73,146.58 164.90,149.10C162.07,151.62 157.25,155.02 154.40,158.30C151.55,161.58 149.55,164.65 147.80,168.80C146.05,172.95 145.43,177.95 143.90,183.20C142.37,188.45 140.35,195.82 138.60,200.30C136.85,204.78 134.93,209.45 133.40,210.10C131.87,210.75 130.72,207.37 129.40,204.20C128.08,201.03 126.37,195.68 125.50,191.10C124.63,186.52 123.77,181.95 124.20,176.70C124.63,171.45 126.13,165.07 128.10,159.60C130.07,154.13 133.15,148.27 136.00,143.90C138.85,139.53 142.13,135.92 145.20,133.40C148.27,130.88 151.57,129.68 154.40,128.80Z" fill="#8a92a1" fill-opacity="0.78" stroke="#111" stroke-width="1.8" stroke-linejoin="round"/>
<path d="M320.50,107.00C321.58,105.37 323.08,102.62 325.70,101.20C328.32,99.78 332.48,98.50 336.20,98.50C339.92,98.50 344.27,99.12 348.00,101.20C351.73,103.28 355.75,107.40 358.60,111.00C361.45,114.60 363.47,118.20 365.10,122.80C366.73,127.40 368.18,133.35 368.40,138.60C368.62,143.85 367.50,149.28 366.40,154.30C365.30,159.32 363.45,163.62 361.80,168.70C360.15,173.78 358.13,183.70 356.50,184.80C354.87,185.90 353.42,178.85 352.00,175.30C350.58,171.75 349.53,168.10 348.00,163.50C346.47,158.90 344.77,152.52 342.80,147.70C340.83,142.88 338.60,138.32 336.20,134.60C333.80,130.88 330.80,128.23 328.40,125.40C326.00,122.57 323.33,120.00 321.80,117.60C320.27,115.20 319.42,112.77 319.20,111.00C318.98,109.23 319.42,108.63 320.50,107.00Z" fill="#8a92a1" fill-opacity="0.78" stroke="#111" stroke-width="1.8" stroke-linejoin="round"/>
<path d="M100.60,353.00C105.31,352.32 108.56,354.00 112.00,356.50C115.44,359.00 119.42,363.92 121.25,368.00C123.08,372.08 123.31,376.33 123.00,381.00C122.69,385.67 120.94,391.27 119.40,396.00C117.86,400.73 114.38,404.07 113.75,409.40C113.12,414.73 114.35,420.82 115.60,428.00C116.85,435.18 120.15,445.60 121.25,452.50C122.35,459.40 123.14,465.02 122.20,469.40C121.26,473.77 117.97,477.35 115.60,478.75C113.23,480.15 111.77,480.30 108.00,477.80C104.23,475.30 97.35,469.84 93.00,463.75C88.65,457.66 84.69,449.38 81.90,441.25C79.11,433.12 77.63,423.12 76.25,415.00C74.87,406.88 73.60,399.38 73.60,392.50C73.60,385.62 74.56,379.07 76.25,373.75C77.94,368.43 79.69,364.06 83.75,360.60C87.81,357.14 95.89,353.68 100.60,353.00Z" fill="#8a92a1" fill-opacity="0.78" stroke="#111" stroke-width="1.8" stroke-linejoin="round"/>
<path d="M260.60,353.40C264.98,352.65 267.18,355.07 270.00,356.50C272.82,357.93 275.33,358.92 277.50,362.00C279.67,365.08 282.53,369.08 283.00,375.00C283.47,380.92 281.80,391.25 280.30,397.50C278.80,403.75 274.78,406.92 274.00,412.50C273.22,418.08 274.10,424.12 275.60,431.00C277.10,437.88 281.27,446.83 283.00,453.75C284.73,460.67 286.29,467.34 286.00,472.50C285.71,477.66 283.58,482.52 281.25,484.70C278.92,486.88 274.81,485.92 272.00,485.60C269.19,485.28 267.57,484.98 264.40,482.80C261.23,480.62 256.60,477.97 253.00,472.50C249.40,467.03 245.75,458.12 242.80,450.00C239.85,441.88 237.18,432.50 235.30,423.75C233.42,415.00 231.65,405.29 231.50,397.50C231.35,389.71 232.36,383.08 234.40,377.00C236.44,370.92 239.38,364.93 243.75,361.00C248.12,357.07 256.23,354.15 260.60,353.40Z" fill="#8a92a1" fill-opacity="0.78" stroke="#111" stroke-width="1.8" stroke-linejoin="round"/>
<g clip-path="url(#inpads)" opacity="0.5"><path d="M94.00,350.00C95.83,351.00 100.17,352.92 105.00,356.00C109.83,359.08 116.50,365.17 123.00,368.50C129.50,371.83 137.25,373.58 144.00,376.00C150.75,378.42 160.25,381.83 163.50,383.00" stroke="#222" stroke-width="0.9" fill="none"/><path d="M93.56,355.33C95.37,356.31 99.68,358.30 104.44,361.22C109.21,364.15 115.70,369.76 122.17,372.89C128.63,376.02 136.44,377.72 143.22,380.00C150.01,382.28 159.61,385.46 162.89,386.56" stroke="#222" stroke-width="0.9" fill="none"/><path d="M93.11,360.67C94.91,361.63 99.19,363.68 103.89,366.44C108.59,369.21 114.91,374.35 121.33,377.28C127.76,380.20 135.62,381.86 142.44,384.00C149.27,386.14 158.97,389.09 162.28,390.11" stroke="#222" stroke-width="0.9" fill="none"/><path d="M92.67,366.00C94.44,366.94 98.69,369.06 103.33,371.67C107.97,374.28 114.11,378.94 120.50,381.67C126.89,384.39 134.81,386.00 141.67,388.00C148.53,390.00 158.33,392.72 161.67,393.67" stroke="#222" stroke-width="0.9" fill="none"/><path d="M92.22,371.33C93.98,372.26 98.20,374.44 102.78,376.89C107.35,379.34 113.31,383.54 119.67,386.06C126.02,388.57 133.99,390.14 140.89,392.00C147.79,393.86 157.69,396.35 161.06,397.22" stroke="#222" stroke-width="0.9" fill="none"/><path d="M91.78,376.67C93.52,377.57 97.71,379.81 102.22,382.11C106.73,384.41 112.52,388.13 118.83,390.44C125.15,392.76 133.18,394.28 140.11,396.00C147.05,397.72 157.06,399.98 160.44,400.78" stroke="#222" stroke-width="0.9" fill="none"/><path d="M91.33,382.00C93.06,382.89 97.22,385.19 101.67,387.33C106.11,389.47 111.72,392.72 118.00,394.83C124.28,396.94 132.36,398.42 139.33,400.00C146.31,401.58 156.42,403.61 159.83,404.33" stroke="#222" stroke-width="0.9" fill="none"/><path d="M90.89,387.33C92.59,388.20 96.73,390.57 101.11,392.56C105.49,394.54 110.93,397.31 117.17,399.22C123.41,401.13 131.55,402.56 138.56,404.00C145.56,405.44 155.78,407.24 159.22,407.89" stroke="#222" stroke-width="0.9" fill="none"/><path d="M90.44,392.67C92.13,393.52 96.24,395.95 100.56,397.78C104.87,399.60 110.13,401.91 116.33,403.61C122.54,405.31 130.73,406.69 137.78,408.00C144.82,409.31 155.14,410.87 158.61,411.44" stroke="#222" stroke-width="0.9" fill="none"/><path d="M90.00,398.00C91.67,398.83 95.75,401.33 100.00,403.00C104.25,404.67 109.33,406.50 115.50,408.00C121.67,409.50 129.92,410.83 137.00,412.00C144.08,413.17 154.50,414.50 158.00,415.00" stroke="#222" stroke-width="0.9" fill="none"/><path d="M93.00,413.00C94.67,414.00 99.50,417.33 103.00,419.00C106.50,420.67 108.67,421.50 114.00,423.00C119.33,424.50 127.83,426.58 135.00,428.00C142.17,429.42 153.33,430.92 157.00,431.50" stroke="#222" stroke-width="0.9" fill="none"/><path d="M248.93,380.59C251.29,380.18 257.55,379.11 263.12,378.11C268.70,377.10 277.37,375.83 282.38,374.57C287.38,373.32 287.41,373.00 293.18,370.57C298.95,368.14 309.01,363.68 317.00,360.00C324.99,356.32 337.09,350.42 341.11,348.50" stroke="#222" stroke-width="0.9" fill="none"/><path d="M248.86,383.59C251.13,383.19 257.02,382.20 262.50,381.21C267.98,380.22 276.69,378.90 281.75,377.64C286.81,376.38 287.15,376.00 292.86,373.64C298.57,371.29 308.02,367.11 316.00,363.50C323.98,359.89 336.60,353.92 340.71,352.00" stroke="#222" stroke-width="0.9" fill="none"/><path d="M248.79,386.58C250.97,386.20 256.49,385.30 261.88,384.32C267.26,383.34 276.01,381.98 281.12,380.71C286.24,379.45 286.89,379.00 292.54,376.71C298.18,374.43 307.04,370.54 315.00,367.00C322.96,363.46 336.10,357.42 340.32,355.50" stroke="#222" stroke-width="0.9" fill="none"/><path d="M248.71,389.57C250.80,389.21 255.95,388.39 261.25,387.43C266.55,386.46 275.34,385.06 280.50,383.79C285.66,382.51 286.63,382.00 292.21,379.79C297.80,377.57 306.05,373.96 314.00,370.50C321.95,367.04 335.61,360.92 339.93,359.00" stroke="#222" stroke-width="0.9" fill="none"/><path d="M248.64,392.56C250.64,392.23 255.42,391.49 260.62,390.54C265.83,389.58 274.66,388.14 279.88,386.86C285.09,385.58 286.37,385.00 291.89,382.86C297.41,380.71 305.06,377.39 313.00,374.00C320.94,370.61 335.11,364.42 339.54,362.50" stroke="#222" stroke-width="0.9" fill="none"/><path d="M248.57,395.56C250.48,395.24 254.89,394.58 260.00,393.64C265.11,392.70 273.99,391.21 279.25,389.93C284.51,388.64 286.11,388.00 291.57,385.93C297.03,383.86 304.07,380.82 312.00,377.50C319.93,374.18 334.62,367.92 339.14,366.00" stroke="#222" stroke-width="0.9" fill="none"/><path d="M248.50,398.55C250.31,398.25 254.35,397.68 259.38,396.75C264.40,395.82 273.31,394.29 278.62,393.00C283.94,391.71 285.85,391.00 291.25,389.00C296.65,387.00 303.08,384.25 311.00,381.00C318.92,377.75 334.12,371.42 338.75,369.50" stroke="#222" stroke-width="0.9" fill="none"/><path d="M248.43,401.54C250.15,401.26 253.82,400.77 258.75,399.86C263.68,398.95 272.64,397.37 278.00,396.07C283.36,394.77 285.60,394.00 290.93,392.07C296.26,390.14 302.10,387.68 310.00,384.50C317.90,381.32 333.63,374.92 338.36,373.00" stroke="#222" stroke-width="0.9" fill="none"/><path d="M248.36,404.54C249.99,404.27 253.29,403.86 258.12,402.96C262.96,402.07 271.96,400.45 277.38,399.14C282.79,397.84 285.34,397.00 290.61,395.14C295.88,393.29 301.11,391.11 309.00,388.00C316.89,384.89 333.14,378.42 337.96,376.50" stroke="#222" stroke-width="0.9" fill="none"/><path d="M248.29,407.53C249.82,407.29 252.76,406.96 257.50,406.07C262.24,405.19 271.29,403.52 276.75,402.21C282.21,400.90 285.08,400.00 290.29,398.21C295.49,396.43 300.12,394.54 308.00,391.50C315.88,388.46 332.64,381.92 337.57,380.00" stroke="#222" stroke-width="0.9" fill="none"/><path d="M248.21,410.52C249.66,410.30 252.22,410.05 256.88,409.18C261.53,408.31 270.61,406.60 276.12,405.29C281.64,403.97 284.82,403.00 289.96,401.29C295.11,399.57 299.13,397.96 307.00,395.00C314.87,392.04 332.15,385.42 337.18,383.50" stroke="#222" stroke-width="0.9" fill="none"/><path d="M248.14,413.51C249.49,413.31 251.69,413.15 256.25,412.29C260.81,411.43 269.93,409.68 275.50,408.36C281.07,407.04 284.56,406.00 289.64,404.36C294.73,402.71 298.14,401.39 306.00,398.50C313.86,395.61 331.65,388.92 336.79,387.00" stroke="#222" stroke-width="0.9" fill="none"/><path d="M248.07,416.51C249.33,416.32 251.16,416.24 255.62,415.39C260.09,414.55 269.26,412.76 274.88,411.43C280.49,410.10 284.30,409.00 289.32,407.43C294.34,405.86 297.15,404.82 305.00,402.00C312.85,399.18 331.16,392.42 336.39,390.50" stroke="#222" stroke-width="0.9" fill="none"/><path d="M248.00,419.50C249.17,419.33 250.62,419.33 255.00,418.50C259.38,417.67 268.58,415.83 274.25,414.50C279.92,413.17 284.04,412.00 289.00,410.50C293.96,409.00 296.17,408.25 304.00,405.50C311.83,402.75 330.67,395.92 336.00,394.00" stroke="#222" stroke-width="0.9" fill="none"/></g>
<g clip-path="url(#inpads)"><path d="M154.00,130.50C153.25,133.75 151.83,142.08 149.50,150.00C147.17,157.92 143.25,168.83 140.00,178.00C136.75,187.17 133.33,195.17 130.00,205.00C126.67,214.83 123.33,226.17 120.00,237.00C116.67,247.83 112.83,259.50 110.00,270.00C107.17,280.50 105.08,290.00 103.00,300.00C100.92,310.00 99.00,321.33 97.50,330.00C96.00,338.67 94.92,345.33 94.00,352.00C93.08,358.67 92.83,363.67 92.00,370.00C91.17,376.33 89.17,384.17 89.00,390.00C88.83,395.83 90.00,400.00 91.00,405.00C92.00,410.00 93.83,413.33 95.00,420.00C96.17,426.67 96.50,438.00 98.00,445.00C99.50,452.00 101.67,456.17 104.00,462.00C106.33,467.83 109.33,472.83 112.00,480.00C114.67,487.17 117.33,496.67 120.00,505.00C122.67,513.33 125.08,521.67 128.00,530.00C130.92,538.33 134.33,545.00 137.50,555.00C140.67,565.00 143.75,578.00 147.00,590.00C150.25,602.00 154.83,617.83 157.00,627.00C159.17,636.17 159.50,642.00 160.00,645.00" stroke="#ffffff" stroke-opacity="0.33" stroke-width="3.2" fill="none"/><path d="M238.10,294.40C238.83,297.21 241.25,305.32 242.50,311.25C243.75,317.18 244.77,324.38 245.60,330.00C246.43,335.62 247.05,340.33 247.50,345.00C247.95,349.67 248.12,353.00 248.30,358.00C248.48,363.00 248.58,369.67 248.60,375.00C248.62,380.33 248.83,384.50 248.40,390.00C247.97,395.50 246.62,403.00 246.00,408.00C245.38,413.00 244.70,415.50 244.70,420.00C244.70,424.50 245.22,430.00 246.00,435.00C246.78,440.00 248.07,445.17 249.40,450.00C250.73,454.83 252.28,459.67 254.00,464.00C255.72,468.33 257.03,471.67 259.70,476.00C262.37,480.33 266.78,484.00 270.00,490.00C273.22,496.00 276.08,504.08 279.00,512.00C281.92,519.92 284.42,529.50 287.50,537.50C290.58,545.50 294.17,549.58 297.50,560.00C300.83,570.42 304.17,587.50 307.50,600.00C310.83,612.50 314.42,622.50 317.50,635.00C320.58,647.50 323.50,662.50 326.00,675.00C328.50,687.50 331.42,704.17 332.50,710.00" stroke="#ffffff" stroke-opacity="0.33" stroke-width="3.2" fill="none"/><path d="M350.50,100.00C351.17,103.83 353.42,114.83 354.50,123.00C355.58,131.17 356.62,139.17 357.00,149.00C357.38,158.83 356.47,174.67 356.80,182.00C357.13,189.33 358.25,187.50 359.00,193.00C359.75,198.50 360.80,207.67 361.30,215.00C361.80,222.33 361.97,229.50 362.00,237.00C362.03,244.50 361.77,252.50 361.50,260.00C361.23,267.50 360.95,274.50 360.40,282.00C359.85,289.50 359.07,297.42 358.20,305.00C357.33,312.58 355.90,321.83 355.20,327.50C354.50,333.17 354.37,335.25 354.00,339.00C353.63,342.75 353.67,344.50 353.00,350.00C352.33,355.50 350.87,365.00 350.00,372.00C349.13,379.00 348.25,386.50 347.80,392.00C347.35,397.50 346.93,395.33 347.30,405.00C347.67,414.67 348.38,435.83 350.00,450.00C351.62,464.17 354.08,477.50 357.00,490.00C359.92,502.50 364.00,513.33 367.50,525.00C371.00,536.67 374.75,547.50 378.00,560.00C381.25,572.50 384.50,589.17 387.00,600.00C389.50,610.83 391.00,613.33 393.00,625.00C395.00,636.67 397.33,656.67 399.00,670.00C400.67,683.33 402.17,698.33 403.00,705.00C403.83,711.67 403.83,709.17 404.00,710.00" stroke="#ffffff" stroke-opacity="0.33" stroke-width="3.2" fill="none"/></g>
<path d="M113.00,472.00C112.97,470.00 113.77,465.75 112.80,460.00C111.83,454.25 108.45,445.00 107.20,437.50C105.95,430.00 104.67,421.92 105.30,415.00C105.93,408.08 110.13,402.50 111.00,396.00C111.87,389.50 111.67,380.83 110.50,376.00C109.33,371.17 106.42,368.75 104.00,367.00C101.58,365.25 98.43,365.33 96.00,365.50C93.57,365.67 92.07,366.00 89.40,368.00C86.73,370.00 82.10,373.10 80.00,377.50C77.90,381.90 77.05,388.82 76.80,394.40C76.55,399.98 78.22,408.23 78.50,411.00" stroke="#1a1a1a" stroke-width="1.25" stroke-dasharray="4.2 2.6" fill="none"/>
<path d="M80.00,390.00C80.83,389.42 83.37,387.00 85.00,386.50C86.63,386.00 88.63,384.75 89.80,387.00C90.97,389.25 91.47,395.33 92.00,400.00C92.53,404.67 92.83,408.75 93.00,415.00C93.17,421.25 92.67,430.67 93.00,437.50C93.33,444.33 95.17,451.75 95.00,456.00C94.83,460.25 92.50,461.83 92.00,463.00" stroke="#1a1a1a" stroke-width="1.25" stroke-dasharray="4.2 2.6" fill="none"/>
<path d="M275.60,480.00C275.75,477.50 277.43,471.25 276.50,465.00C275.57,458.75 271.58,450.67 270.00,442.50C268.42,434.33 266.67,424.42 267.00,416.00C267.33,407.58 271.50,398.83 272.00,392.00C272.50,385.17 271.90,379.25 270.00,375.00C268.10,370.75 264.03,367.60 260.60,366.50C257.17,365.40 252.83,366.65 249.40,368.40C245.97,370.15 242.23,372.15 240.00,377.00C237.77,381.85 236.67,394.08 236.00,397.50" stroke="#1a1a1a" stroke-width="1.25" stroke-dasharray="4.2 2.6" fill="none"/>
<path d="M236.00,399.40C237.29,397.83 241.58,391.40 243.75,390.00C245.92,388.60 247.62,388.50 249.00,391.00C250.38,393.50 251.33,400.17 252.00,405.00C252.67,409.83 252.67,413.75 253.00,420.00C253.33,426.25 253.20,435.00 254.00,442.50C254.80,450.00 257.17,461.25 257.80,465.00" stroke="#1a1a1a" stroke-width="1.25" stroke-dasharray="4.2 2.6" fill="none"/>
<path d="M146.50,138.60C145.42,139.42 141.97,141.53 140.00,143.50C138.03,145.47 136.28,147.82 134.70,150.40C133.12,152.98 131.60,156.15 130.50,159.00C129.40,161.85 128.72,163.47 128.10,167.50C127.48,171.53 126.58,178.38 126.80,183.20C127.02,188.02 128.97,194.20 129.40,196.40" stroke="#1a1a1a" stroke-width="1.25" stroke-dasharray="4.2 2.6" fill="none"/>
<path d="M150.40,147.80C149.50,148.08 146.75,148.63 145.00,149.50C143.25,150.37 141.57,151.33 139.90,153.00C138.23,154.67 136.32,157.30 135.00,159.50C133.68,161.70 132.87,163.78 132.00,166.20C131.13,168.62 130.05,171.70 129.80,174.00C129.55,176.30 129.80,178.33 130.50,180.00C131.20,181.67 133.42,183.33 134.00,184.00" stroke="#1a1a1a" stroke-width="1.25" stroke-dasharray="4.2 2.6" fill="none"/>
<path d="M153.00,154.40C151.92,155.50 148.47,158.82 146.50,161.00C144.53,163.18 142.95,164.88 141.20,167.50C139.45,170.12 137.08,173.20 136.00,176.70C134.92,180.20 135.37,184.78 134.70,188.50C134.03,192.22 132.45,197.25 132.00,199.00" stroke="#1a1a1a" stroke-width="1.25" stroke-dasharray="4.2 2.6" fill="none"/>
<path d="M329.70,107.00C330.75,106.70 333.82,105.53 336.00,105.20C338.18,104.87 339.92,104.03 342.80,105.00C345.68,105.97 350.23,108.03 353.30,111.00C356.37,113.97 359.33,118.63 361.20,122.80C363.07,126.97 364.28,131.18 364.50,136.00C364.72,140.82 363.72,147.12 362.50,151.70C361.28,156.28 358.08,161.53 357.20,163.50" stroke="#1a1a1a" stroke-width="1.25" stroke-dasharray="4.2 2.6" fill="none"/>
<path d="M340.20,126.70C341.50,128.25 346.03,132.95 348.00,136.00C349.97,139.05 350.90,141.30 352.00,145.00C353.10,148.70 354.17,156.00 354.60,158.20" stroke="#1a1a1a" stroke-width="1.25" stroke-dasharray="4.2 2.6" fill="none"/>
<path d="M329.70,115.00C330.57,116.95 332.72,122.77 334.90,126.70C337.08,130.63 340.62,134.43 342.80,138.60C344.98,142.77 346.47,147.55 348.00,151.70C349.53,155.85 351.33,161.53 352.00,163.50" stroke="#1a1a1a" stroke-width="1.25" stroke-dasharray="4.2 2.6" fill="none"/>
<path d="M331.0,105.0 L350.6,104.2" stroke="#c4c8d0" stroke-opacity="0.8" stroke-width="1.5"/>
<path d="M331.0,106.3 L350.6,105.5" stroke="#6d7482" stroke-opacity="0.7" stroke-width="0.7"/>
<path d="M331.2,108.4 L351.2,107.6" stroke="#c4c8d0" stroke-opacity="0.8" stroke-width="1.5"/>
<path d="M331.2,109.7 L351.2,108.9" stroke="#6d7482" stroke-opacity="0.7" stroke-width="0.7"/>
<path d="M333.0,111.8 L351.7,111.0" stroke="#c4c8d0" stroke-opacity="0.8" stroke-width="1.5"/>
<path d="M333.0,113.1 L351.7,112.3" stroke="#6d7482" stroke-opacity="0.7" stroke-width="0.7"/>
<path d="M334.7,115.2 L352.3,114.4" stroke="#c4c8d0" stroke-opacity="0.8" stroke-width="1.5"/>
<path d="M334.7,116.5 L352.3,115.7" stroke="#6d7482" stroke-opacity="0.7" stroke-width="0.7"/>
<path d="M336.5,118.6 L352.8,117.8" stroke="#c4c8d0" stroke-opacity="0.8" stroke-width="1.5"/>
<path d="M336.5,119.9 L352.8,119.1" stroke="#6d7482" stroke-opacity="0.7" stroke-width="0.7"/>
<path d="M338.3,122.0 L353.4,121.2" stroke="#c4c8d0" stroke-opacity="0.8" stroke-width="1.5"/>
<path d="M338.3,123.3 L353.4,122.5" stroke="#6d7482" stroke-opacity="0.7" stroke-width="0.7"/>
<path d="M340.0,125.4 L353.9,124.6" stroke="#c4c8d0" stroke-opacity="0.8" stroke-width="1.5"/>
<path d="M340.0,126.7 L353.9,125.9" stroke="#6d7482" stroke-opacity="0.7" stroke-width="0.7"/>
<path d="M341.8,128.8 L354.4,128.0" stroke="#c4c8d0" stroke-opacity="0.8" stroke-width="1.5"/>
<path d="M341.8,130.1 L354.4,129.3" stroke="#6d7482" stroke-opacity="0.7" stroke-width="0.7"/>
<path d="M343.6,132.2 L355.0,131.4" stroke="#c4c8d0" stroke-opacity="0.8" stroke-width="1.5"/>
<path d="M343.6,133.5 L355.0,132.7" stroke="#6d7482" stroke-opacity="0.7" stroke-width="0.7"/>
<path d="M62.50,359.00C61.08,363.83 55.87,378.25 54.00,388.00C52.13,397.75 51.38,407.67 51.30,417.50C51.22,427.33 52.05,437.42 53.50,447.00C54.95,456.58 58.92,470.33 60.00,475.00" stroke="#111" stroke-width="1" fill="none" stroke-linecap="round" stroke-linejoin="round"/>
<path d="M58,362 L62.8,358.5 L64.5,364.5" stroke="#111" stroke-width="1" fill="none" stroke-linecap="round" stroke-linejoin="round"/>
<path d="M55.5,472.5 L60.2,475.5 L63,470" stroke="#111" stroke-width="1" fill="none" stroke-linecap="round" stroke-linejoin="round"/>
<path d="M252.75,474.25C253.62,478.12 255.62,490.38 258.00,497.50C260.38,504.62 264.00,510.75 267.00,517.00C270.00,523.25 274.50,532.00 276.00,535.00" stroke="#111" stroke-width="1" fill="none" stroke-linecap="round" stroke-linejoin="round"/>
<path d="M272.25,533.5 L276.2,535.2 L278.25,529.75" stroke="#111" stroke-width="1" fill="none" stroke-linecap="round" stroke-linejoin="round"/>
<path d="M327,246 V230.5 a13,13 0 0 1 13,-13 H458" stroke="#0a0a0a" stroke-width="2.2" fill="none"/>
<path d="M253.25,415 V389.6 a12,12 0 0 1 12,-12 H458" stroke="#0a0a0a" stroke-width="2.2" fill="none"/>
<path d="M274.5,540 V555.5 a12,12 0 0 0 12,12 H458" stroke="#0a0a0a" stroke-width="2.2" fill="none"/>
</svg>

<div class="h" style="top:198.6px">Aramid fiber inserts</div>
<div class="p" style="top:236.7px">Panele aramidowe wszyte<br>wewnątrz kolan, bioder i talii</div>
<div class="h" style="top:358.6px">Pro-Shield System</div>
<div class="p" style="top:396.7px">Ochraniacze kolan<br>CE-level 2 i bioder level 1</div>
<div class="h" style="top:548.6px">Easy-out</div>
<div class="p" style="top:586.7px;letter-spacing:0.6px">Możliwość wyciągnięcia<br>ochraniaczy bez konieczności<br>zdejmowania spodni</div>

</body></html>
